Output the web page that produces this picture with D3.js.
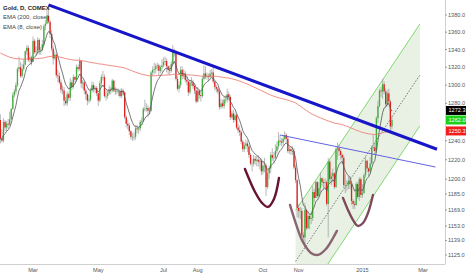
<!DOCTYPE html>
<html>
<head>
<meta charset="utf-8">
<script src="https://cdn.jsdelivr.net/npm/d3@7"></script>
<style>
  body { margin: 0; background: #fff; }
  svg { display: block; font-family: "Liberation Sans", Arial, sans-serif; }
</style>
</head>
<body>
<svg id="chart" width="466" height="275"></svg>
<script>
// Gold daily, 30 Jan 2014 -> 30 Jan 2015 (one value per trading day)
const closes = [
  1242, 1240,
  1260, 1254, 1258, 1257, 1263, 1274, 1289, 1293, 1300, 1318, 1320, 1310, 1318, 1323, 1338, 1342, 1328, 1331, 1326,
  1350, 1337, 1338, 1351, 1339, 1340, 1346, 1367, 1370, 1379, 1372, 1358, 1341, 1330, 1334, 1311, 1310, 1303, 1295, 1294, 1283,
  1280, 1290, 1286, 1303, 1298, 1309, 1306, 1320, 1318, 1327, 1302, 1303, 1294, 1290, 1283, 1284, 1294, 1300, 1296, 1297, 1291,
  1283, 1302, 1309, 1309, 1288, 1288, 1291, 1295, 1294, 1305, 1294, 1293, 1293, 1293, 1288, 1294, 1292, 1265, 1258, 1256, 1250,
  1244, 1244, 1244, 1253, 1252, 1253, 1260, 1261, 1274, 1274, 1275, 1272, 1272, 1314, 1317, 1318, 1321, 1322, 1316, 1320, 1322,
  1326, 1327, 1321, 1317, 1316, 1324, 1338, 1337, 1307, 1296, 1300, 1317, 1310, 1313, 1306, 1304, 1292, 1303, 1303, 1299, 1294, 1282,
  1294, 1289, 1288, 1307, 1313, 1309, 1310, 1309, 1313, 1314, 1304, 1298, 1296, 1293, 1276, 1280, 1277, 1284, 1284, 1290, 1287,
  1265, 1269, 1262, 1267, 1254, 1251, 1249, 1239, 1231, 1235, 1237, 1234, 1225, 1216, 1216, 1221, 1219, 1220, 1218, 1219, 1208,
  1214, 1214, 1192, 1206, 1211, 1225, 1222, 1222, 1229, 1234, 1240, 1239, 1238, 1242, 1246, 1242, 1229, 1231, 1229, 1229, 1212, 1199, 1171,
  1168, 1168, 1144, 1142, 1169, 1151, 1163, 1160, 1161, 1187, 1181, 1197, 1183, 1191, 1201, 1197, 1196, 1197, 1175,
  1218, 1200, 1203, 1206, 1192, 1231, 1232, 1229, 1225, 1222, 1194, 1194, 1194, 1198, 1195, 1178, 1175, 1174, 1195, 1182, 1200, 1184,
  1186, 1204, 1219, 1211, 1208, 1216, 1233, 1233, 1229, 1264, 1277, 1294, 1293, 1301, 1293, 1279, 1291, 1282, 1255, 1262
];
const highs = [
  1268, 1252,
  1264, 1262, 1261, 1263, 1271, 1275, 1292, 1296, 1303, 1320, 1332, 1326, 1324, 1329, 1339, 1345, 1345, 1337, 1333,
  1355, 1352, 1344, 1354, 1353, 1343, 1351, 1369, 1374, 1386, 1392, 1374, 1362, 1344, 1338, 1336, 1317, 1314, 1306, 1300, 1298,
  1287, 1293, 1292, 1308, 1306, 1312, 1310, 1323, 1323, 1331, 1328, 1306, 1305, 1296, 1291, 1289, 1297, 1304, 1303, 1299, 1299,
  1291, 1305, 1312, 1316, 1312, 1294, 1294, 1300, 1298, 1307, 1306, 1298, 1297, 1296, 1296, 1297, 1296, 1293, 1267, 1262, 1259,
  1251, 1248, 1249, 1256, 1257, 1255, 1262, 1265, 1276, 1284, 1280, 1278, 1276, 1316, 1321, 1325, 1324, 1325, 1324, 1322, 1329,
  1331, 1332, 1330, 1322, 1322, 1327, 1345, 1341, 1339, 1310, 1304, 1321, 1321, 1318, 1316, 1310, 1305, 1306, 1309, 1306, 1301, 1297,
  1298, 1295, 1293, 1310, 1322, 1321, 1314, 1313, 1317, 1318, 1321, 1305, 1300, 1298, 1295, 1285, 1284, 1287, 1289, 1296, 1293,
  1289, 1272, 1273, 1270, 1269, 1258, 1256, 1251, 1241, 1238, 1241, 1240, 1236, 1227, 1221, 1225, 1224, 1224, 1225, 1221, 1221,
  1219, 1222, 1216, 1210, 1214, 1228, 1232, 1228, 1236, 1239, 1249, 1246, 1243, 1246, 1250, 1248, 1245, 1234, 1234, 1234, 1232, 1215, 1200,
  1175, 1172, 1171, 1147, 1176, 1170, 1168, 1165, 1166, 1193, 1190, 1198, 1198, 1197, 1207, 1202, 1200, 1201, 1199,
  1222, 1220, 1207, 1211, 1207, 1233, 1238, 1236, 1231, 1227, 1225, 1205, 1199, 1203, 1203, 1197, 1180, 1178, 1197, 1197, 1202, 1202,
  1195, 1206, 1223, 1220, 1212, 1223, 1235, 1246, 1238, 1266, 1283, 1296, 1298, 1307, 1304, 1296, 1294, 1296, 1284, 1266
];
const lows = [
  1237, 1238,
  1238, 1250, 1250, 1253, 1256, 1262, 1273, 1286, 1290, 1298, 1315, 1308, 1308, 1316, 1322, 1334, 1326, 1325, 1322,
  1326, 1335, 1333, 1335, 1334, 1334, 1338, 1344, 1362, 1369, 1370, 1353, 1338, 1323, 1328, 1308, 1303, 1301, 1291, 1290, 1277,
  1278, 1277, 1283, 1283, 1294, 1296, 1303, 1304, 1315, 1316, 1297, 1296, 1290, 1284, 1278, 1280, 1282, 1292, 1292, 1291, 1288,
  1277, 1281, 1298, 1305, 1286, 1283, 1285, 1289, 1290, 1292, 1292, 1289, 1290, 1288, 1286, 1286, 1289, 1263, 1254, 1252, 1246,
  1241, 1240, 1240, 1241, 1248, 1247, 1250, 1257, 1260, 1271, 1271, 1265, 1268, 1271, 1310, 1312, 1313, 1316, 1311, 1313, 1314,
  1320, 1322, 1314, 1312, 1311, 1314, 1322, 1332, 1305, 1294, 1292, 1297, 1306, 1307, 1303, 1300, 1288, 1290, 1299, 1296, 1290, 1280,
  1281, 1285, 1282, 1286, 1305, 1307, 1306, 1304, 1307, 1309, 1302, 1294, 1292, 1290, 1273, 1274, 1275, 1274, 1280, 1281, 1283,
  1262, 1263, 1259, 1260, 1252, 1248, 1245, 1236, 1228, 1228, 1231, 1228, 1222, 1214, 1208, 1213, 1215, 1213, 1213, 1210, 1204,
  1205, 1207, 1183, 1190, 1200, 1206, 1219, 1216, 1221, 1226, 1231, 1235, 1234, 1235, 1240, 1238, 1227, 1226, 1225, 1225, 1210, 1196, 1162,
  1161, 1160, 1140, 1137, 1131, 1149, 1150, 1150, 1155, 1158, 1177, 1181, 1181, 1182, 1187, 1193, 1190, 1192, 1173,
  1142, 1196, 1194, 1197, 1190, 1191, 1220, 1224, 1220, 1216, 1191, 1186, 1188, 1190, 1190, 1174, 1170, 1170, 1173, 1180, 1178, 1181,
  1181, 1185, 1202, 1207, 1203, 1206, 1215, 1229, 1226, 1227, 1259, 1276, 1287, 1285, 1290, 1276, 1277, 1278, 1250, 1252
];
const firstOpen = 1262;
const ema200Start = 1337;

const monthLabels = ["Mar", "May", "Jul", "Aug", "Oct", "Nov", "2015", "Mar"];
const monthIndex = [21, 63, 105, 127, 169, 192, 233, 272];
const priceTicks = [1380, 1360, 1340, 1320, 1300, 1280, 1240, 1220, 1200, 1185, 1169, 1153, 1139, 1125];

// last values shown on the scale: EMA(8), close, EMA(200)
const lastValues = [1272.3, 1262.0, 1250.3];

// drawings, as [bar index, price]
const trendMain = [[31, 1392], [281, 1231]];
const trendThin = [[180, 1246], [280, 1212.5]];
const channelIdx = [190, 270];
const channelTop = [1168.5, 1369.5];
const channelBottom = [1071.3, 1255.7];
const cupA = [[157.4, 1210.5], [163.9, 1187], [168.4, 1176], [172.2, 1172], [176.1, 1180], [179.3, 1201.2]];
const cupB = [[186.4, 1174], [190.9, 1152.2], [194.7, 1137.6], [199.9, 1127], [204.4, 1125.1], [209.5, 1130.8], [214.1, 1141.4], [216.6, 1148.3]];
const cupC = [[220.5, 1181], [223.7, 1169], [226.9, 1159.1], [230.1, 1153.2], [233.4, 1156.1], [236.6, 1166], [239.8, 1184]];

const width = 466, height = 275;
const plotW = 445, plotH = 264;

const svg = d3.select("#chart");

const x = d3.scaleLinear().domain([21, 272]).range([33, 423]);
const y = d3.scaleLog().domain([1380, 1125]).range([15, 255]);

function ema(values, period, start) {
  const k = 2 / (period + 1);
  let prev = start;
  return values.map(v => (prev = v * k + prev * (1 - k)));
}

const bars = closes.map((c, i) => ({
  i: i,
  o: i === 0 ? firstOpen : closes[i - 1],
  h: highs[i],
  l: lows[i],
  c: c
}));
const ema8 = ema(closes, 8, closes[0]);
const ema200 = ema(closes, 200, ema200Start);

svg.append("rect").attr("width", width).attr("height", height).attr("fill", "#fff");

svg.append("clipPath").attr("id", "plot-clip")
  .append("rect").attr("width", plotW).attr("height", plotH);

const plot = svg.append("g").attr("clip-path", "url(#plot-clip)");

// Parallel channel
const cx0 = x(channelIdx[0]), cx1 = x(channelIdx[1]);
const top0 = y(channelTop[0]), top1 = y(channelTop[1]);
const bot0 = y(channelBottom[0]), bot1 = y(channelBottom[1]);

plot.append("path")
  .attr("d", `M${cx0},${top0}L${cx1},${top1}L${cx1},${bot1}L${cx0},${bot0}Z`)
  .attr("fill", "#e8f1e4");

[[top0, top1], [bot0, bot1]].forEach(([a, b]) => {
  plot.append("line")
    .attr("x1", cx0).attr("y1", a).attr("x2", cx1).attr("y2", b)
    .attr("stroke", "#7ddc6a").attr("stroke-width", 1);
});
plot.append("line")
  .attr("x1", cx0).attr("y1", (top0 + bot0) / 2)
  .attr("x2", cx1).attr("y2", (top1 + bot1) / 2)
  .attr("stroke", "#444").attr("stroke-width", 0.7)
  .attr("stroke-dasharray", "1.5,1.5");

// Candles
const candle = plot.append("g").selectAll("g")
  .data(bars)
  .enter().append("g");

candle.append("line")
  .attr("x1", d => x(d.i)).attr("x2", d => x(d.i))
  .attr("y1", d => y(d.h)).attr("y2", d => y(d.l))
  .attr("stroke", "#8a8a8a").attr("stroke-width", 0.6);

candle.append("rect")
  .attr("x", d => x(d.i) - 0.65)
  .attr("width", 1.3)
  .attr("y", d => y(Math.max(d.o, d.c)))
  .attr("height", d => Math.max(0.6, Math.abs(y(d.o) - y(d.c))))
  .attr("fill", d => d.c >= d.o ? "#3fae3a" : "#e0201e");

// EMA lines
const lineGen = d3.line().x((d, i) => x(i)).y(d => y(d));
plot.append("path").datum(ema200)
  .attr("d", lineGen).attr("fill", "none")
  .attr("stroke", "#ef7b72").attr("stroke-width", 0.9);
plot.append("path").datum(ema8)
  .attr("d", lineGen).attr("fill", "none")
  .attr("stroke", "#555").attr("stroke-width", 0.8);

// Trend lines
plot.append("line")
  .attr("x1", x(trendMain[0][0])).attr("y1", y(trendMain[0][1]))
  .attr("x2", x(trendMain[1][0])).attr("y2", y(trendMain[1][1]))
  .attr("stroke", "#1616c8").attr("stroke-width", 3);
plot.append("line")
  .attr("x1", x(trendThin[0][0])).attr("y1", y(trendThin[0][1]))
  .attr("x2", x(trendThin[1][0])).attr("y2", y(trendThin[1][1]))
  .attr("stroke", "#6262e4").attr("stroke-width", 1);

// Hand drawn cups
const cupLine = d3.line().x(d => x(d[0])).y(d => y(d[1])).curve(d3.curveCatmullRom);
[[cupA, "#6a1232"], [cupB, "#8b6472"], [cupC, "#7c4a5c"]].forEach(([pts, col]) => {
  plot.append("path").datum(pts)
    .attr("d", cupLine).attr("fill", "none")
    .attr("stroke", col).attr("stroke-width", 2.4)
    .attr("stroke-linecap", "round");
});

// Axes frame
svg.append("line").attr("x1", plotW + 0.5).attr("x2", plotW + 0.5)
  .attr("y1", 0).attr("y2", plotH).attr("stroke", "#cfcfcf");
svg.append("line").attr("x1", 0).attr("x2", plotW + 0.5)
  .attr("y1", plotH + 0.5).attr("y2", plotH + 0.5).attr("stroke", "#cfcfcf");

// Price scale
const yAxis = svg.append("g").selectAll("g")
  .data(priceTicks)
  .enter().append("g")
  .attr("transform", d => `translate(${plotW},${y(d)})`);
yAxis.append("line").attr("x1", 0).attr("x2", 2).attr("stroke", "#999");
yAxis.append("text")
  .attr("x", 3).attr("dy", "0.35em")
  .attr("font-size", "5.6px").attr("fill", "#555")
  .text(d => d3.format(".1f")(d));

// Time scale
svg.append("g").selectAll("text")
  .data(monthLabels)
  .enter().append("text")
  .attr("x", (d, i) => x(monthIndex[i]))
  .attr("y", 271.5)
  .attr("text-anchor", "middle")
  .attr("font-size", "5.6px").attr("fill", "#555")
  .text(d => d);

// Last value labels
const labelColors = ["#000", "#19d219", "#f21d1d"];
const tags = svg.append("g").selectAll("g")
  .data(lastValues)
  .enter().append("g")
  .attr("transform", d => `translate(${plotW + 1},${y(d)})`);
tags.append("rect")
  .attr("x", 0).attr("y", -4.5).attr("width", 21).attr("height", 9)
  .attr("fill", (d, i) => labelColors[i]);
tags.append("text")
  .attr("x", 2.5).attr("dy", "0.35em")
  .attr("font-size", "5.6px").attr("fill", "#fff")
  .text(d => d3.format(".1f")(d));

// Legend
const legendLines = [
  { t: "Gold, D, COMEX", w: "bold", c: "#222" },
  { t: "EMA (200, close)", w: "normal", c: "#444" },
  { t: "EMA (8, close)", w: "normal", c: "#444" }
];
svg.append("g").selectAll("text")
  .data(legendLines)
  .enter().append("text")
  .attr("x", 3)
  .attr("y", (d, i) => 9.5 + i * 9.5)
  .attr("font-size", "6px")
  .attr("font-weight", d => d.w)
  .attr("fill", d => d.c)
  .text(d => d.t);
</script>
</body>
</html>
